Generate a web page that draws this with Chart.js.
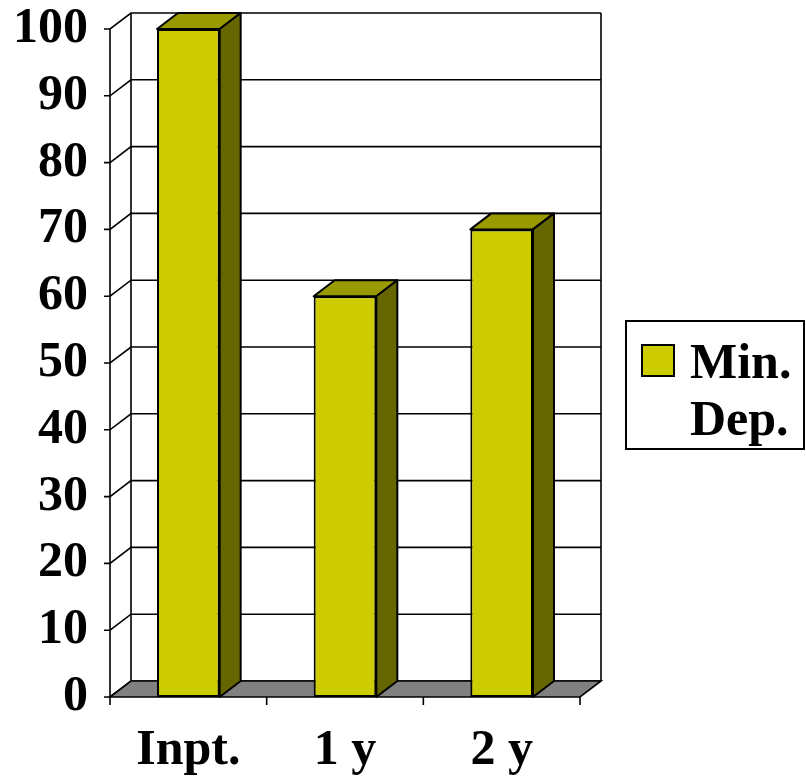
<!DOCTYPE html>
<html>
<head>
<meta charset="utf-8">
<script src="https://cdn.jsdelivr.net/npm/chart.js@4"></script>
<style>
  html, body { margin: 0; padding: 0; background: #fff; }
  #wrap { width: 806px; height: 777px; }
</style>
</head>
<body>
<div id="wrap"><canvas id="cnv" width="806" height="777"></canvas></div>
<script>
const categories = ['Inpt.', '1 y', '2 y'];
const minDepValues = [100, 60, 70];
const seriesLabel = ['Min.', 'Dep.'];
const yMin = 0;
const yMax = 100;
const yStep = 10;

const FONT = '"Liberation Serif", "Times New Roman", serif';
const DX = 21;   // depth offset of the back wall
const DY = -16;

// fake 3d, the way the old office charts look
const threeD = {
  id: 'threeD',
  beforeDatasetsDraw(chart) {
    const ctx = chart.ctx;
    const area = chart.chartArea;
    const y = chart.scales.y;
    ctx.save();
    ctx.strokeStyle = '#000';
    ctx.lineWidth = 1.6;
    // grid: tick, left wall diagonal, back wall line
    y.ticks.forEach(t => {
      const py = y.getPixelForValue(t.value);
      ctx.beginPath();
      ctx.moveTo(area.left - 6, py);
      ctx.lineTo(area.left, py);
      ctx.lineTo(area.left + DX, py + DY);
      ctx.lineTo(area.right + DX, py + DY);
      ctx.stroke();
    });
    // back wall verticals
    ctx.beginPath();
    ctx.moveTo(area.left + DX, area.top + DY);
    ctx.lineTo(area.left + DX, area.bottom + DY);
    ctx.moveTo(area.right + DX, area.top + DY);
    ctx.lineTo(area.right + DX, area.bottom + DY);
    // front value axis
    ctx.moveTo(area.left, area.top);
    ctx.lineTo(area.left, area.bottom);
    ctx.stroke();
    // floor
    ctx.fillStyle = '#808080';
    ctx.beginPath();
    ctx.moveTo(area.left, area.bottom);
    ctx.lineTo(area.right, area.bottom);
    ctx.lineTo(area.right + DX, area.bottom + DY);
    ctx.lineTo(area.left + DX, area.bottom + DY);
    ctx.closePath();
    ctx.fill();
    ctx.stroke();
    // category ticks
    const n = categories.length;
    ctx.beginPath();
    for (let i = 0; i <= n; i++) {
      const px = area.left + i * area.width / n;
      ctx.moveTo(px, area.bottom);
      ctx.lineTo(px, area.bottom + 8);
    }
    ctx.stroke();
    ctx.restore();
  },
  afterDatasetsDraw(chart) {
    const ctx = chart.ctx;
    ctx.save();
    ctx.strokeStyle = '#000';
    ctx.lineWidth = 2;
    ctx.lineJoin = 'round';
    chart.getDatasetMeta(0).data.forEach(bar => {
      const p = bar.getProps(['x', 'y', 'base', 'width'], true);
      const l = p.x - p.width / 2;
      const r = p.x + p.width / 2;
      // top
      ctx.fillStyle = '#999900';
      ctx.beginPath();
      ctx.moveTo(l, p.y);
      ctx.lineTo(r, p.y);
      ctx.lineTo(r + DX, p.y + DY);
      ctx.lineTo(l + DX, p.y + DY);
      ctx.closePath();
      ctx.fill();
      ctx.stroke();
      // side
      ctx.fillStyle = '#666600';
      ctx.beginPath();
      ctx.moveTo(r, p.y);
      ctx.lineTo(r + DX, p.y + DY);
      ctx.lineTo(r + DX, p.base + DY);
      ctx.lineTo(r, p.base);
      ctx.closePath();
      ctx.fill();
      ctx.stroke();
    });
    ctx.restore();
  },
  afterDraw(chart) {
    // legend box on the right
    const ctx = chart.ctx;
    const ds = chart.data.datasets[0];
    ctx.save();
    ctx.strokeStyle = '#000';
    ctx.lineWidth = 2;
    ctx.strokeRect(626, 321, 178, 128);
    ctx.fillStyle = ds.backgroundColor;
    ctx.fillRect(642, 345, 32, 31);
    ctx.strokeRect(642, 345, 32, 31);
    ctx.fillStyle = '#000';
    ctx.font = 'bold 50px ' + FONT;
    ctx.textAlign = 'left';
    ctx.textBaseline = 'alphabetic';
    ds.label.forEach((line, i) => ctx.fillText(line, 690, 378 + i * 57));
    ctx.restore();
  }
};

const ctx = document.getElementById('cnv').getContext('2d');
new Chart(ctx, {
  type: 'bar',
  data: {
    labels: categories,
    datasets: [{
      label: seriesLabel,
      data: minDepValues,
      backgroundColor: '#cccc00',
      borderColor: '#000',
      borderWidth: 2,
      borderSkipped: false,
      categoryPercentage: 1.0,
      barPercentage: 0.4
    }]
  },
  options: {
    responsive: false,
    animation: false,
    layout: {
      padding: { left: 0, right: 226, top: 29, bottom: 0 }
    },
    plugins: {
      legend: { display: false },
      tooltip: { enabled: false }
    },
    scales: {
      x: {
        grid: { display: false },
        border: { display: false },
        ticks: {
          color: '#000',
          padding: 16,
          font: { family: FONT, size: 50, weight: 'bold' }
        },
        afterFit(scale) {
          scale.height = 80;
          scale.paddingLeft = 0;
          scale.paddingRight = 0;
        }
      },
      y: {
        min: yMin,
        max: yMax,
        grid: { display: false },
        border: { display: false },
        ticks: {
          stepSize: yStep,
          color: '#000',
          padding: 14,
          font: { family: FONT, size: 50, weight: 'bold' }
        },
        afterFit(scale) {
          scale.width = 110;
          scale.paddingTop = 0;
          scale.paddingBottom = 0;
        }
      }
    }
  },
  plugins: [threeD]
});
</script>
</body>
</html>
